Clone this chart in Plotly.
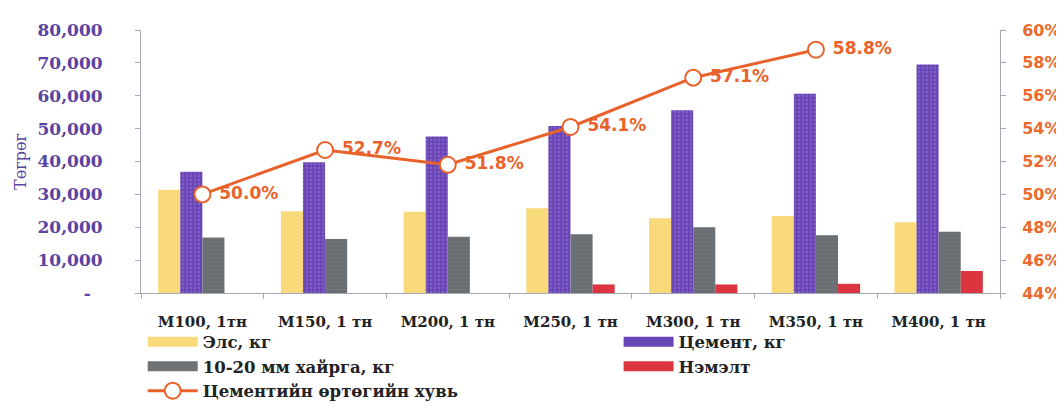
import plotly.graph_objects as go

categories = ["M100, 1тн", "M150, 1 тн", "M200, 1 тн", "M250, 1 тн",
              "M300, 1 тн", "M350, 1 тн", "M400, 1 тн"]
sand = [31400, 24900, 24700, 25800, 22700, 23400, 21500]
cement = [36900, 39800, 47600, 50800, 55600, 60600, 69500]
gravel = [16900, 16400, 17100, 17900, 20000, 17600, 18600]
additive = [None, None, None, 2600, 2600, 2800, 6700]
cement_share = [0.500, 0.527, 0.518, 0.541, 0.571, 0.588, None]

left_ticks = [0, 10000, 20000, 30000, 40000, 50000, 60000, 70000, 80000]
left_ticktext = ["-\u00a0\u00a0", "10,000", "20,000", "30,000", "40,000",
                 "50,000", "60,000", "70,000", "80,000"]

PURPLE_TXT = "#5a43a2"
ORANGE = "#e9622b"
SERIF = "DejaVu Serif"
SANS = "DejaVu Sans"

# name, values, colour, pattern, legend column
bar_series = [
    ("Элс, кг", sand, "#f8da7a", None, "legend"),
    ("Цемент, кг", cement, "#6a45b6",
     dict(shape=".", fgcolor="#9a84d8", size=4, solidity=0.25), "legend2"),
    ("10-20 мм хайрга, кг", gravel, "#6d7276",
     dict(shape="-", fgcolor="#5d6266", size=4, solidity=0.3), "legend"),
    ("Нэмэлт", additive, "#dc3540", None, "legend2"),
]

fig = go.Figure()
for name, vals, color, pattern, leg in bar_series:
    mk = dict(color=color, line_width=0)
    if pattern:
        mk["pattern"] = pattern
    fig.add_trace(go.Bar(x=categories, y=vals, name=name, marker=mk,
                         legendgroup=name, showlegend=False))
    # wide legend swatch (draws nothing on the plot)
    fig.add_trace(go.Scatter(x=[None], y=[None], name=name, mode="lines",
                             legendgroup=name, legend=leg,
                             line=dict(color=color, width=11)))

fig.add_trace(go.Scatter(
    x=categories, y=cement_share, name="Цементийн өртөгийн хувь",
    yaxis="y2", mode="lines+markers+text", legend="legend",
    line=dict(color=ORANGE, width=3),
    marker=dict(symbol="circle", size=16, color="white",
                line=dict(color=ORANGE, width=2)),
    texttemplate="\u00a0%{y:.1%}",
    textposition="middle right",
    textfont=dict(family=SANS, size=17, color=ORANGE, weight="bold"),
    cliponaxis=False,
))

legend_font = dict(family=SERIF, size=16.5, color="#222", weight="bold")

fig.update_layout(
    width=1064, height=412, autosize=False,
    margin=dict(l=127, r=68, t=17, b=119),
    paper_bgcolor="white", plot_bgcolor="white",
    barmode="group", bargap=0.28, bargroupgap=0,
    font=dict(family=SERIF, color="#222"),
    xaxis=dict(
        showgrid=False, showline=True, linecolor="#a4a8b8", linewidth=1,
        ticks="outside", ticklen=5, tickcolor="#a4a8b8", tickson="boundaries",
        ticklabelstandoff=15,
        tickfont=dict(family=SERIF, size=15, color="#222", weight="bold"),
    ),
    yaxis=dict(
        range=[0, 80000], tickvals=left_ticks, ticktext=left_ticktext,
        showgrid=False, zeroline=False, showline=True, linecolor="#a4a8b8",
        linewidth=1, ticks="outside", ticklen=5, tickcolor="#a4a8b8",
        ticklabelstandoff=29,
        tickfont=dict(family=SERIF, size=17, color=PURPLE_TXT, weight="bold"),
        title=dict(text="Төгрөг", font=dict(family=SERIF, size=16, color=PURPLE_TXT),
                   standoff=6),
    ),
    yaxis2=dict(
        overlaying="y", side="right", range=[0.44, 0.60], dtick=0.02,
        tickformat=".0%", showgrid=False, zeroline=False, showline=True,
        linecolor="#a4a8b8", linewidth=1, ticks="outside", ticklen=5,
        tickcolor="#a4a8b8", ticklabelstandoff=13,
        tickfont=dict(family=SANS, size=16, color="#ec6a2c", weight="bold"),
    ),
    legend=dict(
        orientation="v", x=0.002, xanchor="left", y=-0.12, yanchor="top",
        itemwidth=50, font=legend_font, traceorder="normal",
        bgcolor="rgba(0,0,0,0)",
    ),
    legend2=dict(
        orientation="v", x=0.556, xanchor="left", y=-0.12, yanchor="top",
        itemwidth=50, font=legend_font, traceorder="normal",
        bgcolor="rgba(0,0,0,0)",
    ),
)

fig.write_html("out.html")
